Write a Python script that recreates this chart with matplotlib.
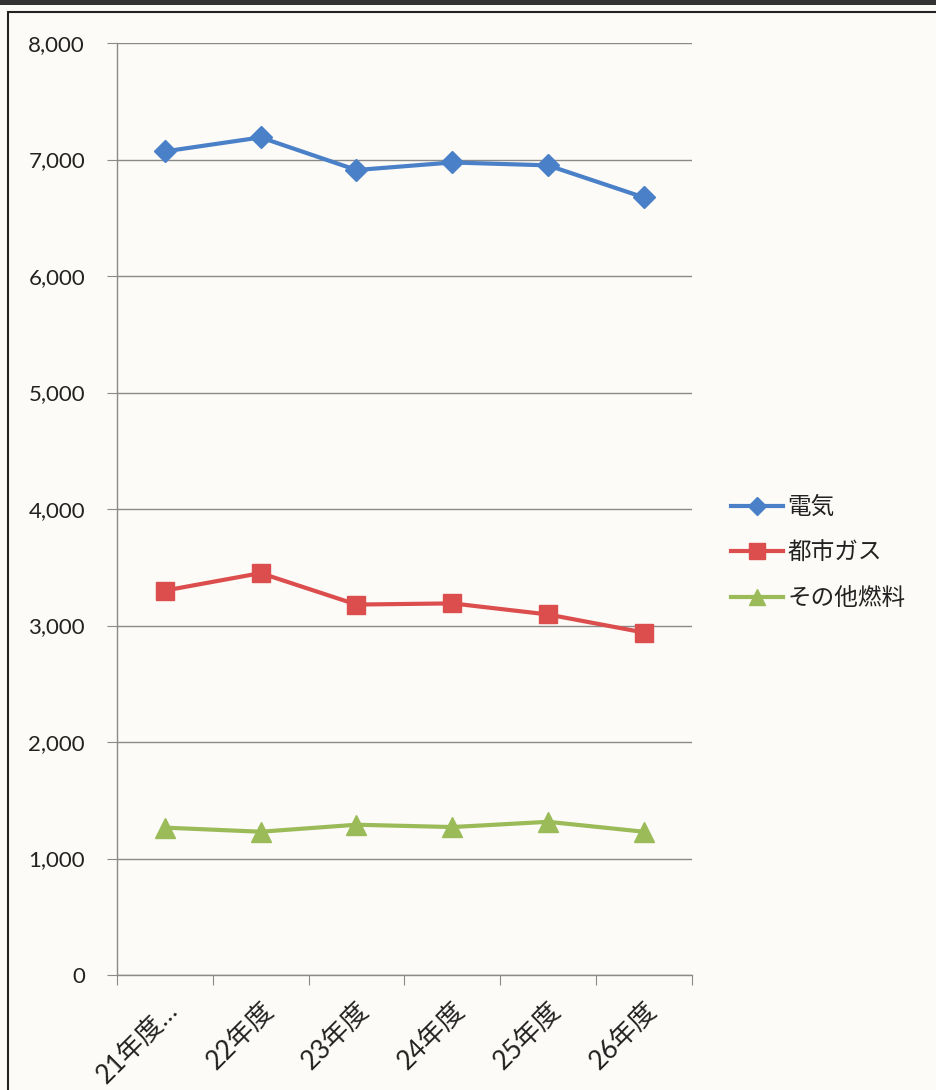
import matplotlib
matplotlib.use("Agg")
import matplotlib.pyplot as plt
from matplotlib.patches import Rectangle
from matplotlib.ticker import FuncFormatter, FixedLocator
import matplotlib.transforms as mtransforms

plt.rcParams['font.family'] = ['Noto Sans CJK JP', 'DejaVu Sans']

categories = ["21年度…", "22年度", "23年度", "24年度", "25年度", "26年度"]
denki = [7070, 7190, 6910, 6975, 6950, 6675]
toshigas = [3300, 3450, 3180, 3190, 3095, 2940]
sonota = [1265, 1230, 1290, 1270, 1315, 1230]

series_names = ["電気", "都市ガス", "その他燃料"]

fig = plt.figure(figsize=(9.36, 10.9), dpi=100, facecolor="#fcfbf7")
ax = fig.add_axes([0.125, 0.1055, 0.614, 0.855])
ax.set_facecolor("#fcfbf7")

x = list(range(len(categories)))
ax.plot(x, denki, color="#4a80c8", lw=3, marker="D", ms=11, label=series_names[0], zorder=3)
ax.plot(x, toshigas, color="#dc4e4e", lw=3, marker="s", ms=13, label=series_names[1], zorder=3)
ax.plot(x, sonota, color="#9bbb59", lw=3, marker="^", ms=14, label=series_names[2], zorder=3)

ax.set_xlim(-0.5, len(categories) - 0.5)
ax.set_ylim(0, 8000)
ax.set_yticks(range(0, 8001, 1000))
ax.yaxis.set_major_formatter(FuncFormatter(lambda v, p: f"{int(v):,}"))
ax.grid(axis="y", color="#8a8a8a", lw=1)
ax.set_axisbelow(True)

ax.xaxis.set_major_locator(FixedLocator([i - 0.5 for i in range(len(categories) + 1)]))
ax.xaxis.set_minor_locator(FixedLocator(x))
ax.set_xticklabels([])
ax.set_xticklabels(categories, minor=True, rotation=45, ha="right", va="top",
                   rotation_mode="anchor", fontsize=19, color="#222222")
offset = mtransforms.ScaledTranslation(9 / 100, 0, fig.dpi_scale_trans)
for lbl in ax.get_xticklabels(minor=True):
    lbl.set_fontfamily(['Lato', 'Noto Sans CJK JP', 'DejaVu Sans'])
    lbl.set_transform(lbl.get_transform() + offset)
ax.tick_params(axis="x", which="minor", length=0, pad=16)
ax.tick_params(axis="x", which="major", length=7, color="#8a8a8a", direction="out")
ax.tick_params(axis="y", length=7, color="#8a8a8a", pad=16)
for lbl in ax.get_yticklabels():
    lbl.set_fontfamily(['Lato', 'DejaVu Sans'])
    lbl.set_fontsize(16)
    lbl.set_color("#222222")

for s in ["top", "right"]:
    ax.spines[s].set_visible(False)
for s in ["left", "bottom"]:
    ax.spines[s].set_color("#8a8a8a")
    ax.spines[s].set_linewidth(1)

leg = fig.legend(loc="center left", bbox_to_anchor=(0.758, 0.4927), frameon=False,
                 fontsize=17, handlelength=2.2, labelspacing=0.95, handletextpad=0.2,
                 markerscale=0.85)
for t in leg.get_texts():
    t.set_color("#222222")

fig.add_artist(Rectangle((0.009, -0.01), 1.2, 0.999, transform=fig.transFigure,
                         fill=False, ec="#222222", lw=1.5))
fig.add_artist(Rectangle((0.0, 0.995), 1.0, 0.01, transform=fig.transFigure,
                         fc="#333333", ec="none"))

fig.savefig("out.png", dpi=100, facecolor=fig.get_facecolor())
